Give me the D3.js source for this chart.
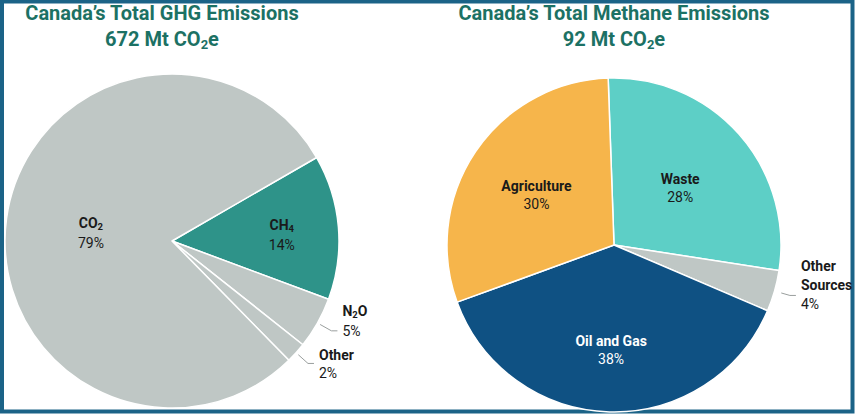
<!DOCTYPE html>
<html>
<head>
<meta charset="utf-8">
<script src="https://cdn.jsdelivr.net/npm/d3@7"></script>
<style>
  body { margin: 0; background: #fff; }
  svg { display: block; font-family: Roboto, "Liberation Sans", sans-serif; }
</style>
</head>
<body>
<div id="chart"></div>
<script>
// data
var ghgNames = ["CH4", "N2O", "Other", "CO2"];
var ghgValues = [14, 5, 2, 79];
var methaneNames = ["Waste", "Other Sources", "Oil and Gas", "Agriculture"];
var methaneValues = [28, 4, 38, 30];

var width = 856, height = 415;

var svg = d3.select("#chart").append("svg")
  .attr("width", width)
  .attr("height", height);

// frame
svg.append("rect")
  .attr("x", 2).attr("y", 1.5)
  .attr("width", width - 5.5).attr("height", height - 5)
  .attr("fill", "none")
  .attr("stroke", "#1b6387")
  .attr("stroke-width", 4);

var colors = {
  "CO2": "#bfc7c5", "CH4": "#2e9389", "N2O": "#bfc7c5", "Other": "#bfc7c5",
  "Waste": "#5dcfc6", "Other Sources": "#bfc7c5", "Oil and Gas": "#0f5183", "Agriculture": "#f6b54b"
};

// label placement (fraction of radius for inside labels, outside ones get a leader)
var labelPos = {
  "CO2": {r: 0.49, anchor: "middle"},
  "CH4": {r: 0.66, anchor: "middle"},
  "Waste": {r: 0.53, anchor: "middle"},
  "Agriculture": {r: 0.56, anchor: "middle"},
  "Oil and Gas": {r: 0.62, anchor: "middle", fill: "#fff"},
  "N2O": {outside: true, dy: [-15, 5]},
  "Other": {outside: true, dy: [-3, 15]},
  "Other Sources": {outside: true, dy: [-24, -5, 14], start: 7}
};

function nameText(sel, name) {
  // handle chemical subscripts
  var m = name.match(/^(CO|CH|N)(\d)(O?)$/);
  if (!m) { sel.text(name); return; }
  sel.append("tspan").text(m[1]);
  sel.append("tspan").attr("font-size", "0.68em").attr("dy", 2).text(m[2]);
  if (m[3]) sel.append("tspan").attr("dy", -2).text(m[3]);
}

function drawPie(names, values, cx, cy, radius, startDeg, title, total) {
  var g = svg.append("g").attr("transform", "translate(" + cx + "," + cy + ")");
  var pie = d3.pie().sort(null)
    .startAngle(startDeg * Math.PI / 180)
    .endAngle(startDeg * Math.PI / 180 + 2 * Math.PI);
  var arcs = pie(values);
  var arc = d3.arc().innerRadius(0).outerRadius(radius);

  g.selectAll("path.slice")
    .data(arcs)
  .enter().append("path")
    .attr("class", "slice")
    .attr("d", arc)
    .attr("fill", function(d, i) { return colors[names[i]]; })
    .attr("stroke", "#fff")
    .attr("stroke-width", 1.5)
    .attr("stroke-linejoin", "round");

  arcs.forEach(function(d, i) {
    var name = names[i];
    var p = labelPos[name];
    var mid = (d.startAngle + d.endAngle) / 2;
    var sx = Math.sin(mid), sy = -Math.cos(mid);
    if (!p.outside) {
      var lr = radius * p.r;
      var t = g.append("text")
        .attr("x", lr * sx).attr("y", lr * sy)
        .attr("text-anchor", p.anchor)
        .attr("font-size", 14)
        .attr("fill", p.fill || "#1a1a1a");
      var t1 = t.append("tspan").attr("x", lr * sx).attr("dy", -2).attr("font-weight", 700);
      nameText(t1, name);
      t.append("tspan").attr("x", lr * sx).attr("dy", 18).text(values[i] + "%");
    } else {
      var r0 = radius + (p.start || 3), r1 = radius + 16;
      var ex = r1 * sx, ey = r1 * sy;
      g.append("path")
        .attr("d", "M" + (r0 * sx) + "," + (r0 * sy) + "L" + ex + "," + ey + "h6")
        .attr("fill", "none")
        .attr("stroke", "#9a9f9e")
        .attr("stroke-width", 1);
      var lines = name === "Other Sources" ? ["Other", "Sources"] : [name];
      var lx = ex + 11;
      var t = g.append("text").attr("font-size", 14).attr("fill", "#1a1a1a");
      lines.forEach(function(l, k) {
        var ts = t.append("tspan").attr("x", lx).attr("y", ey + p.dy[k]).attr("font-weight", 700);
        nameText(ts, l);
      });
      t.append("tspan").attr("x", lx).attr("y", ey + p.dy[lines.length]).text(values[i] + "%");
    }
  });

  var tt = svg.append("text")
    .attr("text-anchor", "middle")
    .attr("fill", "#1c7164")
    .attr("font-weight", 700)
    .attr("font-size", 20);
  tt.append("tspan").attr("x", title.x).attr("y", 20).text(title.text);
  var l2 = tt.append("tspan").attr("x", title.x).attr("y", 46);
  l2.append("tspan").text(total + " Mt CO");
  l2.append("tspan").attr("font-size", "0.65em").attr("dy", 3).text("2");
  l2.append("tspan").attr("dy", -3).text("e");
}

drawPie(ghgNames, ghgValues, 172, 241, 167, 60,
  {x: 162, text: "Canada\u2019s Total GHG Emissions"}, 672);
drawPie(methaneNames, methaneValues, 614, 245, 167, -2,
  {x: 614, text: "Canada\u2019s Total Methane Emissions"}, 92);
</script>
</body>
</html>
